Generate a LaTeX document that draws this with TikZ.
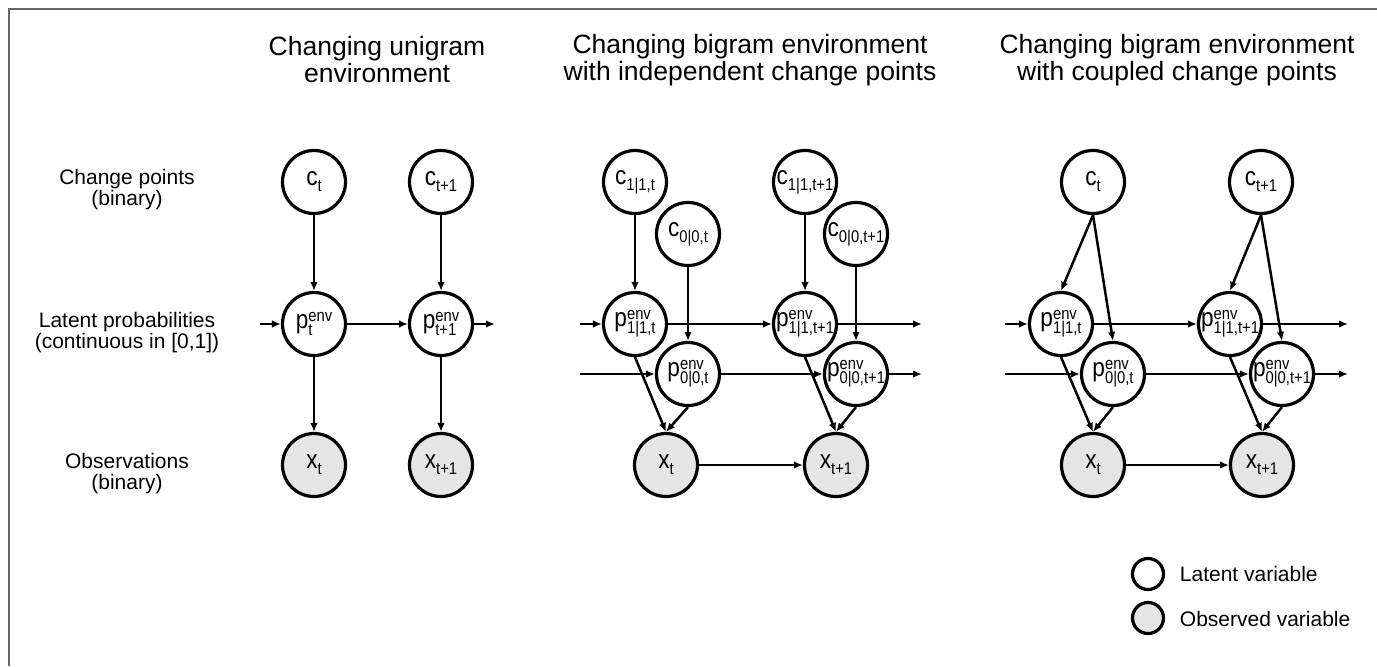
\documentclass[tikz,border=0pt]{standalone}
\usepackage{fontspec}
\usepackage{graphicx}
\setmainfont{Liberation Sans}
\usetikzlibrary{arrows.meta}

\newcommand{\subsz}{\fontsize{8.5}{8.5}\selectfont}
\newcommand{\narrow}[1]{\makebox[0pt]{\scalebox{0.87}[1]{#1}}}
\newcommand{\pvar}[1]{\narrow{p{\subsz\setbox0=\hbox{env}\setbox2=\hbox{#1}\ifdim\wd0>\wd2 \wd2=\wd0 \fi\rlap{\raisebox{3.4pt}{\box0}}\raisebox{-3.6pt}{\box2}}}}
\newcommand{\cvar}[1]{\narrow{c\raisebox{-3pt}{\subsz #1}}}
\newcommand{\xvar}[1]{\narrow{x\raisebox{-3pt}{\subsz #1}}}

\begin{document}
\begin{tikzpicture}[x=0.5pt,y=-0.5pt,->,>={Latex[length=4.5pt,width=3.8pt]},line width=1.25pt]
	\def \titlerow{60}
	\def \rowc{182}
	\def \rowcc{234}
	\def \rowp{324}
	\def \rowpp{374}
	\def \rowx{465}
	\tikzstyle{l-node}=[circle,draw=black!100,fill=white,line width=1.6pt,inner sep=0pt,minimum size=31.5pt,font=\fontsize{13}{13}\selectfont]
	\tikzstyle{o-node}=[l-node,fill=black!10]
	\tikzstyle{key-node}=[l-node,minimum size=15.5pt]
	\tikzstyle{title}=[align=center,font=\fontsize{13.25}{13.5}\selectfont]
	\tikzstyle{annot}=[align=center,font=\fontsize{10.5}{10.5}\selectfont]
	\useasboundingbox (0,0) rectangle (1377,666);
	\draw[-,black!60,line width=1pt] (9,666) -- (9,9) -- (1377,9);

	% titles
	\node[title] (title-uni) at (377,\titlerow) {Changing unigram\\environment};
	\node[title] (title-ind) at (750,\titlerow) {Changing bigram environment\\with independent change points};
	\node[title] (title-cpl) at (1177,\titlerow) {Changing bigram environment\\with coupled change points};

	% row labels
	\node[annot] (c-layer) at (127,190) {Change points\\(binary)};
	\node[annot] (p-layer) at (127,333) {Latent probabilities\\(continuous in [0,1])};
	\node[annot] (x-layer) at (127,474) {Observations\\(binary)};

	% unigram
	\node[l-node] (u-c0) at (314,\rowc) {\cvar{t}};
	\node[l-node] (u-c1) at (441,\rowc) {\cvar{t+1}};
	\node[l-node] (u-p0) at (314,\rowp) {\pvar{t}};
	\node[l-node] (u-p1) at (441,\rowp) {\pvar{t+1}};
	\node[o-node] (u-x0) at (314,\rowx) {\xvar{t}};
	\node[o-node] (u-x1) at (441,\rowx) {\xvar{t+1}};
	\coordinate (u-in) at (260,\rowp);
	\coordinate (u-out) at (495,\rowp);

	% bigram, independent
	\node[l-node] (i-c10) at (635,\rowc) {\cvar{1|1,t}};
	\node[l-node] (i-c11) at (805,\rowc) {\cvar{1|1,t+1}};
	\node[l-node] (i-c00) at (688,\rowcc) {\cvar{0|0,t}};
	\node[l-node] (i-c01) at (856,\rowcc) {\cvar{0|0,t+1}};
	\node[l-node] (i-p10) at (635,\rowp) {\pvar{1|1,t}};
	\node[l-node] (i-p11) at (805,\rowp) {\pvar{1|1,t+1}};
	\node[l-node] (i-p00) at (688,\rowpp) {\pvar{0|0,t}};
	\node[l-node] (i-p01) at (856,\rowpp) {\pvar{0|0,t+1}};
	\node[o-node] (i-x0) at (666,\rowx) {\xvar{t}};
	\node[o-node] (i-x1) at (836,\rowx) {\xvar{t+1}};
	\coordinate (i-in1) at (580,\rowp);
	\coordinate (i-in0) at (580,\rowpp);
	\coordinate (i-out1) at (922,\rowp);
	\coordinate (i-out0) at (922,\rowpp);

	% bigram, coupled
	\node[l-node] (k-c0) at (1093,\rowc) {\cvar{t}};
	\node[l-node] (k-c1) at (1261,\rowc) {\cvar{t+1}};
	\node[l-node] (k-p10) at (1061,\rowp) {\pvar{1|1,t}};
	\node[l-node] (k-p11) at (1230,\rowp) {\pvar{1|1,t+1}};
	\node[l-node] (k-p00) at (1113,\rowpp) {\pvar{0|0,t}};
	\node[l-node] (k-p01) at (1282,\rowpp) {\pvar{0|0,t+1}};
	\node[o-node] (k-x0) at (1093,\rowx) {\xvar{t}};
	\node[o-node] (k-x1) at (1262,\rowx) {\xvar{t+1}};
	\coordinate (k-in1) at (1005,\rowp);
	\coordinate (k-in0) at (1005,\rowpp);
	\coordinate (k-out1) at (1348,\rowp);
	\coordinate (k-out0) at (1348,\rowpp);

	% legend
	\node[key-node] (key-l) at (1148,574) {};
	\node[key-node,fill=black!10] (key-o) at (1148,618) {};
	\node[annot,anchor=west] (key-l-txt) at (1172,574) {Latent variable};
	\node[annot,anchor=west] (key-o-txt) at (1172,619) {Observed variable};

	\path
		(u-c0)	edge	(u-p0)
		(u-c1)	edge	(u-p1)
		(u-in)	edge	(u-p0)
		(u-p0)	edge	(u-p1)
		(u-p1)	edge	(u-out)
		(u-p0)	edge	(u-x0)
		(u-p1)	edge	(u-x1);

	\path
		(i-c10.south)	edge	(i-p10.north)
		(i-c11.south)	edge	(i-p11.north)
		(i-c00.south)	edge	(i-p00.north)
		(i-c01.south)	edge	(i-p01.north)
		(i-in1)	edge	(i-p10)
		(i-p10)	edge	(i-p11)
		(i-p11)	edge	(i-out1)
		(i-in0)	edge	(i-p00)
		(i-p00)	edge	(i-p01)
		(i-p01)	edge	(i-out0)
		(i-p10.south)	edge	(i-x0.north)
		(i-p00.south)	edge	(i-x0.north)
		(i-p11.south)	edge	(i-x1.north)
		(i-p01.south)	edge	(i-x1.north)
		(i-x0)	edge	(i-x1);

	\path
		(k-c0.south)	edge	(k-p10.north)
		(k-c0.south)	edge	(k-p00.north)
		(k-c1.south)	edge	(k-p11.north)
		(k-c1.south)	edge	(k-p01.north)
		(k-in1)	edge	(k-p10)
		(k-p10)	edge	(k-p11)
		(k-p11)	edge	(k-out1)
		(k-in0)	edge	(k-p00)
		(k-p00)	edge	(k-p01)
		(k-p01)	edge	(k-out0)
		(k-p10.south)	edge	(k-x0.north)
		(k-p00.south)	edge	(k-x0.north)
		(k-p11.south)	edge	(k-x1.north)
		(k-p01.south)	edge	(k-x1.north)
		(k-x0)	edge	(k-x1);
\end{tikzpicture}
\end{document}
